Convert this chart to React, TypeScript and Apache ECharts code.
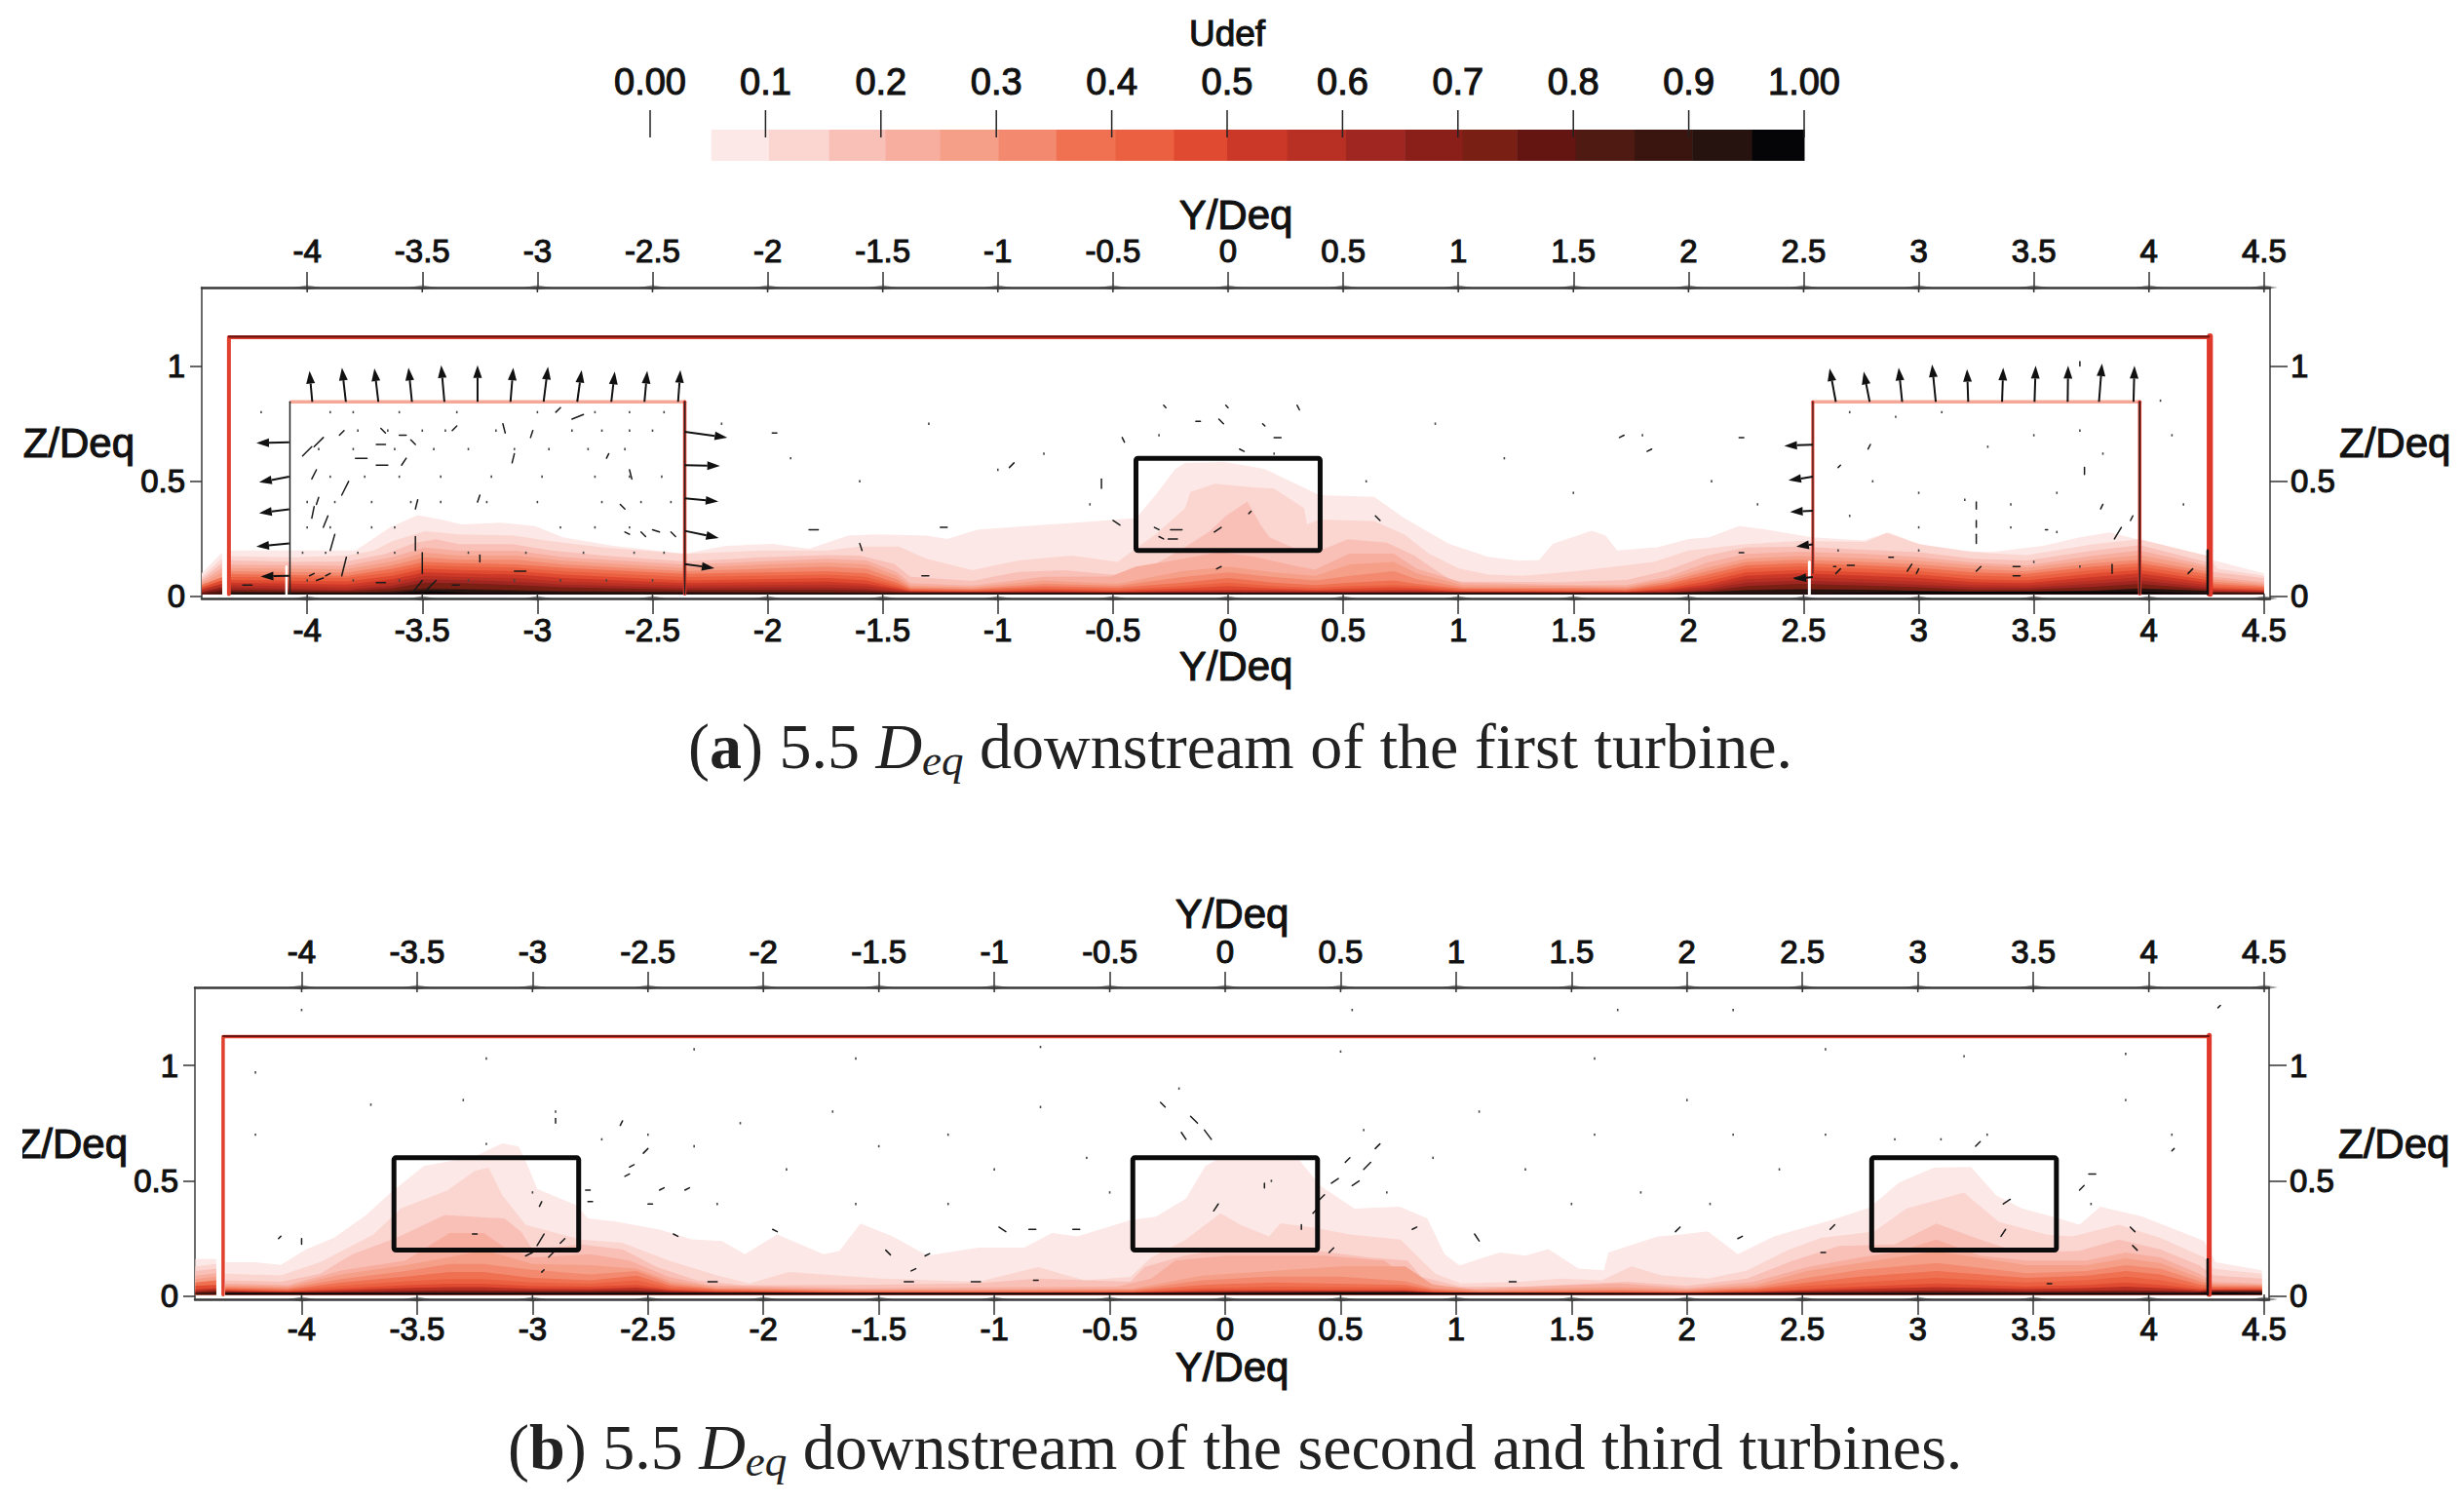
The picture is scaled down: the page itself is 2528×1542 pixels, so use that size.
import React, { useEffect, useRef } from "react";
import * as echarts from "echarts";

const yTicks = [-4, -3.5, -3, -2.5, -2, -1.5, -1, -0.5, 0, 0.5, 1, 1.5, 2, 2.5, 3, 3.5, 4, 4.5];
const zTicks = [0, 0.5, 1];
const barTicks = [0, 0.1, 0.2, 0.3, 0.4, 0.5, 0.6, 0.7, 0.8, 0.9, 1];
const barTickLabels = ["0.00", "0.1", "0.2", "0.3", "0.4", "0.5", "0.6", "0.7", "0.8", "0.9", "1.00"];
const bandEdges = [.053,.103,.155,.204,.251,.302,.352,.403,.454,.5,.552,.603,.654,.704,.751,.802,.853,.903,.955,1];
const bandColors = ["#fce8e6", "#fbd6d1", "#f9c0b8", "#f7ae9f", "#f59f89", "#f38a70", "#ef7152", "#ea6040", "#e04a30", "#cc3828", "#b83024", "#a02622", "#8a1f1a", "#7a1f14", "#651511", "#4e1a12", "#3a140e", "#26120f", "#050508"];

// Panel (a): contour heights, [Y, Z]
const aL1 = [[-4.34,.2],[-4.07,.2],[-3.79,.2],[-3.64,.3],[-3.52,.353],[-3.42,.334],[-3.33,.313],[-3.16,.32],[-3.01,.306],[-2.89,.257],[-2.67,.22],[-2.36,.186],[-2.18,.22],[-1.98,.228],[-1.82,.207],[-1.65,.264],[-1.53,.27],[-1.31,.264],[-1.22,.25],[-1.09,.29],[-.877,.306],[-.66,.32],[-.4,.34],[-.315,.44],[-.23,.553],[-.186,.58],[-.013,.584],[.16,.553],[.397,.44],[.635,.433],[.765,.34],[.96,.228],[1.13,.172],[1.26,.155],[1.35,.158],[1.41,.228],[1.58,.285],[1.64,.264],[1.69,.2],[1.865,.214],[2.0,.25],[2.09,.257],[2.22,.306],[2.33,.292],[2.535,.257],[2.76,.243],[2.87,.278],[2.96,.243],[3.09,.2],[3.32,.193],[3.54,.22],[3.7,.257],[3.83,.278],[3.97,.243],[4.23,.18],[4.28,.158],[4.5,.1]];
const aL2 = [[-4.34,.175],[-4.06,.17],[-3.83,.178],[-3.71,.2],[-3.63,.24],[-3.49,.283],[-3.34,.27],[-3.11,.265],[-2.94,.24],[-2.71,.213],[-2.36,.185],[-2.03,.2],[-1.74,.2],[-1.6,.217],[-1.43,.217],[-1.31,.164],[-1.11,.114],[-.91,.157],[-.68,.178],[-.48,.15],[-.395,.213],[-.315,.27],[-.186,.384],[-.164,.454],[-.056,.49],[.095,.475],[.2,.468],[.33,.384],[.343,.313],[.397,.334],[.635,.327],[.765,.27],[.873,.186],[1.0,.123],[1.13,.095],[1.28,.09],[1.5,.109],[1.85,.15],[2.0,.2],[2.25,.227],[2.48,.241],[2.77,.237],[2.86,.276],[3.0,.227],[3.24,.192],[3.47,.18],[3.76,.227],[3.96,.248],[4.25,.178],[4.3,.121],[4.5,.09]];
const aL3 = [[-4.34,.157],[-4.06,.15],[-3.83,.152],[-3.66,.185],[-3.53,.234],[-3.44,.248],[-3.34,.227],[-3.11,.227],[-2.94,.2],[-2.71,.178],[-2.36,.152],[-2.03,.17],[-1.74,.18],[-1.6,.178],[-1.45,.142],[-1.38,.086],[-1.11,.068],[-.91,.107],[-.71,.114],[-.48,.093],[-.34,.128],[-.2,.206],[-.08,.283],[-.013,.348],[.084,.412],[.14,.313],[.18,.257],[.31,.2],[.4,.2],[.52,.248],[.69,.234],[.81,.178],[.87,.135],[.98,.065],[1.44,.062],[1.73,.072],[1.91,.114],[2.08,.178],[2.25,.213],[2.48,.217],[2.77,.203],[3,.192],[3.24,.164],[3.47,.157],[3.76,.2],[3.96,.223],[4.25,.15],[4.28,.107],[4.5,.079]];
const aL4 = [[-4.34,.138],[-3.83,.133],[-3.63,.171],[-3.49,.213],[-3.34,.199],[-3.09,.199],[-2.89,.171],[-2.36,.138],[-2.03,.152],[-1.74,.164],[-1.57,.157],[-1.44,.107],[-1.38,.058],[-1.11,.048],[-.8,.086],[-.51,.087],[-.4,.13],[-.23,.158],[-.035,.193],[.117,.172],[.27,.137],[.376,.116],[.527,.186],[.72,.186],[.82,.12],[1.02,.06],[1.5,.05],[1.73,.05],[1.91,.086],[2.08,.147],[2.25,.185],[2.48,.195],[2.77,.185],[3,.171],[3.24,.147],[3.47,.135],[3.76,.178],[3.96,.2],[4.25,.135],[4.28,.086],[4.5,.062]];
const aStations = [-4.34,-3.83,-3.63,-3.49,-3.34,-3.09,-2.89,-2.36,-2.03,-1.74,-1.57,-1.44,-1.38,-1.11,-.8,-.48,-.2,0,.2,.38,.53,.72,.82,1.02,1.5,1.73,1.91,2.08,2.25,2.48,2.77,3,3.24,3.47,3.76,3.96,4.25,4.28,4.5];
const aL5 = [.124,.118,.152,.19,.178,.178,.155,.124,.138,.148,.14,.09,.048,.04,.07,.055,.11,.13,.105,.09,.14,.15,.10,.05,.045,.042,.075,.125,.165,.175,.165,.155,.135,.125,.16,.18,.125,.075,.055];
const aL6 = [.11,.104,.135,.17,.16,.16,.14,.11,.12,.13,.12,.075,.04,.034,.056,.046,.085,.105,.085,.07,.09,.11,.075,.04,.038,.036,.065,.11,.15,.16,.15,.14,.12,.11,.145,.16,.11,.065,.048];
const aL7 = [.098,.09,.12,.15,.145,.14,.125,.098,.105,.11,.1,.06,.034,.03,.045,.038,.06,.08,.06,.05,.06,.07,.055,.034,.032,.03,.055,.095,.135,.145,.135,.125,.105,.098,.13,.145,.098,.055,.042];
const aL8 = [.085,.08,.105,.135,.13,.125,.11,.085,.09,.095,.085,.05,.03,.026,.036,.03,.045,.06,.045,.038,.045,.05,.045,.028,.026,.025,.045,.08,.12,.13,.12,.11,.09,.085,.115,.13,.085,.045,.036];
const aL9 = [.072,.066,.09,.12,.115,.11,.095,.07,.075,.08,.07,.04,.025,.022,.03,.025,.035,.045,.035,.03,.035,.04,.036,.024,.022,.021,.036,.066,.105,.115,.105,.095,.075,.07,.1,.115,.072,.038,.03];
const aL10 = [.06,.052,.075,.105,.1,.095,.08,.058,.062,.065,.055,.034,.022,.019,.024,.02,.026,.03,.028,.024,.026,.03,.03,.02,.019,.018,.03,.052,.09,.1,.09,.08,.062,.058,.085,.1,.06,.032,.026];
const aL11 = [.05,.04,.06,.09,.085,.08,.065,.048,.05,.052,.045,.028,.022,.02,.02,.02,.022,.024,.024,.022,.022,.024,.024,.02,.02,.02,.024,.042,.075,.085,.075,.065,.05,.048,.07,.085,.05,.028,.022];
const aL12 = [.04,.03,.048,.075,.072,.065,.052,.038,.04,.04,.034,.022,.02,.019,.019,.018,.02,.02,.02,.02,.02,.021,.021,.019,.018,.018,.02,.033,.06,.07,.06,.052,.04,.038,.056,.07,.04,.022,.02];
const aL13 = [.03,.024,.036,.06,.058,.05,.04,.03,.03,.03,.026,.02,.018,.018,.018,.017,.018,.018,.018,.018,.018,.019,.019,.018,.017,.017,.018,.025,.045,.055,.048,.04,.03,.03,.042,.055,.032,.02,.018];
const aL15 = [.022,.019,.024,.036,.034,.028,.024,.021,.019,.019,.018,.017,.017,.017,.017,.016,.017,.017,.017,.017,.017,.017,.017,.017,.016,.016,.017,.019,.028,.034,.03,.025,.022,.022,.026,.036,.024,.018,.017];
const aL17 = [.018,.015,.018,.03,.03,.024,.02,.018,.018,.017,.016,.015,.015,.015,.015,.014,.015,.015,.015,.015,.015,.015,.015,.015,.014,.014,.015,.02,.026,.03,.028,.024,.02,.02,.024,.034,.024,.016,.015];
const aL19 = [[-4.34,.013],[-3.6,.016],[-3.45,.022],[-3.3,.016],[-2.4,.013],[2.54,.014],[3,.02],[3.9,.022],[4.26,.014]];

// Panel (b): contour heights, [Y, Z]
const bL1 = [[-4.33,.148],[-4.2,.148],[-4.09,.136],[-3.98,.204],[-3.86,.253],[-3.72,.352],[-3.62,.444],[-3.47,.564],[-3.25,.606],[-3.13,.663],[-3.06,.649],[-3.02,.564],[-2.98,.465],[-2.81,.395],[-2.76,.338],[-2.64,.324],[-2.45,.289],[-2.31,.247],[-2.18,.24],[-2.08,.183],[-1.94,.268],[-1.74,.183],[-1.67,.197],[-1.58,.316],[-1.44,.26],[-1.29,.176],[-1.07,.211],[-.87,.211],[-.75,.274],[-.64,.26],[-.41,.33],[-.3,.345],[-.17,.423],[-.086,.564],[-.02,.6],[.17,.61],[.32,.592],[.41,.48],[.56,.38],[.756,.388],[.875,.338],[.95,.183],[1.015,.134],[1.19,.19],[1.3,.176],[1.4,.205],[1.53,.12],[1.64,.113],[1.66,.19],[1.875,.26],[1.98,.268],[2.09,.282],[2.22,.183],[2.38,.261],[2.63,.331],[2.79,.384],[2.92,.494],[3.07,.557],[3.23,.56],[3.34,.437],[3.45,.381],[3.61,.338],[3.7,.31],[3.79,.388],[3.97,.346],[4.24,.24],[4.29,.148],[4.49,.113]];
const bL2 = [[-4.33,.098],[-4.09,.091],[-3.92,.148],[-3.69,.267],[-3.57,.381],[-3.37,.458],[-3.25,.543],[-3.19,.557],[-3.13,.437],[-3.03,.31],[-2.79,.246],[-2.61,.232],[-2.41,.155],[-2.2,.091],[-2.06,.056],[-1.89,.105],[-1.49,.077],[-1.07,.063],[-.81,.127],[-.61,.07],[-.41,.084],[-.32,.169],[-.18,.239],[-.02,.36],[.065,.31],[.19,.26],[.24,.317],[.39,.296],[.54,.268],[.76,.246],[.83,.176],[.91,.098],[1.02,.056],[1.28,.063],[1.45,.077],[1.63,.07],[1.76,.13],[1.89,.091],[2.09,.077],[2.26,.112],[2.43,.197],[2.58,.253],[2.81,.281],[2.95,.38],[3.2,.45],[3.35,.323],[3.56,.267],[3.67,.26],[3.87,.31],[4.05,.253],[4.24,.169],[4.28,.12],[4.49,.098]];
const bL3 = [[-4.33,.07],[-4.09,.063],[-3.92,.098],[-3.78,.183],[-3.59,.253],[-3.38,.352],[-3.12,.337],[-3.05,.281],[-3,.204],[-2.79,.225],[-2.61,.204],[-2.46,.127],[-2.29,.07],[-2.09,.049],[-1.61,.05],[-1.09,.056],[-.81,.077],[-.41,.063],[-.35,.127],[-.18,.176],[0,.204],[.4,.197],[.62,.169],[.79,.155],[.85,.084],[1.02,.042],[1.3,.042],[1.74,.063],[2,.045],[2.26,.077],[2.46,.155],[2.66,.218],[2.9,.225],[3.08,.316],[3.27,.246],[3.44,.19],[3.7,.197],[3.87,.246],[4.05,.204],[4.22,.134],[4.28,.091],[4.49,.077]];
const bL4 = [[-4.33,.056],[-4.06,.049],[-3.83,.112],[-3.55,.155],[-3.36,.274],[-3.21,.274],[-3.12,.211],[-3,.169],[-2.75,.183],[-2.58,.155],[-2.41,.084],[-2.24,.049],[-1.6,.035],[-.47,.042],[-.32,.077],[-.216,.155],[0,.176],[.43,.176],[.69,.155],[.78,.085],[.85,.063],[1.02,.031],[1.71,.056],[2,.035],[2.29,.063],[2.52,.127],[2.75,.169],[2.9,.19],[3.08,.246],[3.27,.176],[3.47,.155],[3.73,.155],[3.9,.19],[4.05,.169],[4.22,.098],[4.28,.063],[4.49,.056]];
const bStations = [-4.33,-4.06,-3.83,-3.55,-3.36,-3.21,-3,-2.75,-2.55,-2.4,-2.2,-1.6,-1,-.4,-.1,.2,.5,.78,.9,1.1,1.7,2,2.3,2.52,2.75,3.08,3.47,3.73,3.9,4.05,4.22,4.28,4.49];
const bL5 = [.05,.042,.095,.135,.17,.2,.14,.135,.12,.065,.04,.03,.03,.034,.09,.11,.13,.13,.05,.028,.04,.03,.05,.11,.145,.195,.135,.135,.165,.145,.08,.055,.05];
const bL6 = [.042,.036,.075,.11,.14,.14,.115,.095,.11,.055,.034,.026,.026,.028,.07,.085,.085,.065,.035,.024,.03,.025,.04,.08,.115,.145,.1,.11,.135,.12,.065,.048,.046];
const bL7 = [.036,.03,.06,.085,.105,.105,.08,.07,.09,.045,.03,.022,.022,.024,.05,.06,.055,.05,.028,.02,.024,.02,.033,.06,.085,.11,.08,.09,.11,.095,.052,.042,.04];
const bL8 = [.032,.026,.045,.065,.075,.075,.06,.055,.07,.036,.026,.019,.019,.02,.036,.042,.04,.038,.024,.018,.02,.018,.027,.045,.06,.08,.06,.07,.085,.07,.04,.036,.036];
const bL9 = [.028,.022,.034,.048,.055,.055,.044,.042,.05,.03,.022,.017,.017,.018,.028,.03,.03,.03,.02,.016,.017,.016,.022,.032,.042,.056,.042,.05,.06,.05,.032,.032,.032];
const bL10 = [.024,.02,.026,.036,.04,.04,.033,.032,.038,.025,.019,.016,.016,.017,.022,.024,.024,.024,.018,.016,.016,.016,.019,.025,.032,.04,.032,.036,.042,.036,.026,.028,.028];
const bL12 = [.02,.018,.02,.024,.026,.026,.024,.024,.026,.02,.018,.015,.015,.016,.019,.02,.021,.021,.017,.015,.016,.015,.017,.02,.022,.026,.022,.024,.026,.024,.021,.024,.024];
const bL14 = [.018,.016,.017,.018,.019,.019,.019,.019,.02,.017,.016,.014,.014,.015,.017,.018,.019,.019,.015,.014,.014,.014,.016,.017,.018,.019,.018,.019,.019,.019,.018,.022,.022];
const bL17 = [[-4.33,.015],[-3.3,.014],[-2.5,.015],[0,.014],[.6,.016],[2,.013],[4.2,.014],[4.28,.017],[4.49,.015]];

// Strips left of the inner frame: Z at Y = -4.46 and at Y = -4.37
const stripY = [-4.46, -4.37];
const stripABands = [0, 1, 2, 3, 4, 6, 8, 10, 12, 14, 16];
const stripAStart = [.1,.085,.075,.065,.058,.05,.04,.03,.02,.014,.012];
const stripAEnd = [.19,.165,.145,.125,.105,.085,.07,.055,.04,.028,.018];
const stripBBands = [0, 1, 2, 3, 4, 6, 8, 10, 13, 16];
const stripBStart = [.162,.13,.11,.09,.075,.06,.045,.03,.02,.015];
const stripBEnd = [.162,.14,.12,.1,.085,.07,.05,.035,.025,.018];

// Frames and boxes, [Y, Z]
const frameA = [[-4.34,.011],[-4.34,1.125],[4.26,1.125],[4.26,.011]];
const frameB = [[-4.34,.007],[-4.34,1.125],[4.26,1.125],[4.26,.007]];
const coreTopA = [[-4.34,1.128],[4.26,1.128]];
const coreTopB = [[-4.34,1.127],[4.26,1.127]];
const sideRightA = [[4.265,.012],[4.265,1.13]];
const sideRightB = [[4.262,.008],[4.262,1.13]];
const coreRightA = [[4.255,.012],[4.255,.2]];
const coreRightB = [[4.255,.008],[4.255,.16]];
const leftBoxTop = [[-4.07,.845],[-2.36,.845]];
const leftBoxLeft = [[-4.075,.012],[-4.075,.845]];
const leftBoxRight = [[-2.36,.012],[-2.36,.845]];
const rightBoxTop = [[2.54,.845],[3.96,.845]];
const rightBoxLeft = [[2.54,.1],[2.54,.845]];
const rightBoxRight = [[3.96,.012],[3.96,.845]];
const gapLeft = [[-4.09,.012],[-4.09,.13]];
const gapRight = [[2.525,.012],[2.525,.15]];
const turbinesA = [[-.4,.6,.4,.2]];
const turbinesB = [[-3.6,.6,-2.8,.2],[-.4,.6,.4,.2],[2.8,.6,3.6,.2]];

// Arrows, [Y tail, Z tail, Y tip, Z tip]
const arrowsA = [
  [-3.978,.845,-3.99,.979],[-3.832,.845,-3.849,.993],[-3.691,.845,-3.708,.99],[-3.545,.845,-3.56,.993],[-3.404,.845,-3.418,1.004],[-3.26,.845,-3.26,1.004],[-3.117,.845,-3.105,.993],[-2.973,.845,-2.954,.997],[-2.827,.845,-2.808,.983],[-2.679,.845,-2.664,.976],[-2.535,.845,-2.523,.979],[-2.389,.845,-2.379,.983],
  [-4.078,.669,-4.221,.666],[-4.078,.52,-4.209,.496],[-4.078,.379,-4.209,.362],[-4.078,.231,-4.221,.217],[-4.078,.09,-4.202,.087],
  [-2.36,.715,-2.175,.69],[-2.36,.57,-2.207,.567],[-2.36,.426,-2.214,.412],[-2.36,.285,-2.212,.254],[-2.36,.141,-2.231,.123],
  [2.64,.845,2.613,.99],[2.787,.845,2.761,.976],[2.928,.845,2.913,.993],[3.074,.845,3.058,1.007],[3.215,.845,3.21,.987],[3.362,.845,3.367,.993],[3.503,.845,3.508,1.001],[3.647,.845,3.649,1.001],[3.783,.845,3.796,1.011],[3.933,.845,3.937,1.001],
  [2.54,.659,2.416,.654],[2.54,.52,2.434,.504],[2.54,.372,2.441,.367],[2.54,.226,2.468,.217],[2.54,.085,2.456,.076],
];

// Velocity dashes, [Y0, Z0, Y1, Z1]
const specksA = [
  [-4.02,.61,-3.98,.65],[-3.97,.65,-3.93,.69],[-3.98,.51,-3.96,.55],[-3.98,.34,-3.97,.39],[-3.96,.4,-3.95,.43],[-3.93,.3,-3.91,.35],[-3.9,.2,-3.88,.27],[-3.85,.44,-3.82,.5],[-3.79,.6,-3.74,.6],[-3.7,.57,-3.65,.57],[-3.59,.57,-3.57,.6],[-3.7,.66,-3.66,.66],[-3.53,.38,-3.52,.42],[-3.53,.2,-3.53,.26],[-3.5,.1,-3.5,.19],[-3.54,.02,-3.5,.07],[-3.48,.03,-3.44,.07],[-3.99,.09,-3.97,.1],[-3.96,.07,-3.93,.08],[-3.92,.09,-3.9,.1],[-3.85,.09,-3.83,.17],[-3.25,.44,-3.26,.41],[-3.1,.62,-3.11,.58],[-3.02,.72,-3.03,.69],[-2.85,.77,-2.8,.79],[-2.64,.4,-2.62,.38],[-2.55,.28,-2.53,.26],[-2.62,.28,-2.6,.27],[-2.5,.29,-2.47,.28],[-2.42,.28,-2.4,.26],[-3.15,.75,-3.14,.71],[-3.35,.74,-3.37,.72],[-3.68,.73,-3.66,.71],[-3.6,.7,-3.57,.7],[-3.55,.68,-3.53,.66],[-3.86,.7,-3.84,.72],[-3.1,.11,-3.05,.11],[-3.7,.06,-3.66,.06],[-3.37,.05,-3.34,.05],[-4.28,.05,-4.24,.05],[-3.25,.18,-3.25,.15],[-2.92,.8,-2.9,.82],[-2.7,.6,-2.69,.62],[-2.6,.55,-2.59,.51],
  [-1.98,.71,-1.96,.71],[-1.82,.29,-1.78,.29],[-1.33,.09,-1.3,.09],[-1.6,.23,-1.59,.2],
  [-.28,.83,-.27,.82],[-.01,.83,0,.82],[.3,.83,.31,.81],[-.14,.76,-.12,.76],[-.04,.77,-.02,.75],[.15,.75,.16,.74],[.2,.69,.23,.69],[.05,.64,.07,.63],[-.46,.69,-.45,.67],[-.55,.51,-.55,.47],[-.5,.33,-.47,.31],[-.32,.3,-.3,.29],[-.3,.26,-.28,.25],[-.25,.29,-.2,.29],[-.26,.25,-.22,.25],[-.06,.28,-.03,.3],[.09,.36,.1,.37],[.64,.35,.66,.33],[-.95,.56,-.93,.58],[-1.25,.3,-1.22,.3],[1.7,.69,1.72,.7],[1.82,.63,1.84,.64],[-.05,.12,-.03,.13],
  [3.25,.41,3.25,.38],[3.25,.33,3.25,.3],[3.25,.27,3.25,.23],[2.65,.56,2.66,.57],[2.78,.64,2.79,.66],[3.88,.3,3.85,.25],[3.84,.1,3.84,.14],[2.95,.11,2.97,.14],[2.99,.1,3,.12],[2.63,.13,2.64,.13],[2.69,.135,2.72,.135],[2.87,.17,2.89,.17],[3.41,.13,3.44,.13],[3.41,.09,3.44,.09],[4.17,.1,4.19,.12],[2.22,.19,2.24,.19],[2.22,.69,2.24,.69],[3.7,1.0,3.7,1.02],[3.55,.29,3.56,.29],[2.46,.08,2.5,.09],[3.72,.53,3.72,.56],[3.79,.38,3.8,.4],[3.93,.35,3.92,.33],[2.64,.1,2.66,.12],[3.25,.11,3.27,.13],
];
const specksB = [
  [-4,.226,-4,.25],[-4.1,.25,-4.09,.26],[-2.52,.62,-2.5,.64],[-2.97,.39,-2.96,.41],[-2.98,.22,-2.95,.27],[-3.26,.27,-3.24,.27],[-2.88,.23,-2.86,.25],[-2.77,.46,-2.75,.46],[-2.45,.46,-2.43,.47],[-2.6,.52,-2.58,.53],[-2.58,.56,-2.56,.57],[-3.03,.175,-3,.19],[-2.93,.17,-2.91,.19],[-2.96,.105,-2.95,.115],[-2.76,.41,-2.74,.41],[-2.5,.4,-2.48,.4],[-2.34,.46,-2.32,.47],[-2.24,.063,-2.2,.063],[-2.62,.74,-2.61,.76],[-2.9,.75,-2.9,.77],[-2.39,.27,-2.37,.26],[-1.96,.29,-1.94,.28],
  [-.98,.3,-.95,.28],[-.85,.29,-.82,.29],[-.66,.29,-.63,.29],[-1.39,.063,-1.35,.063],[-1.1,.063,-1.06,.063],[-.83,.07,-.81,.07],[-1.36,.11,-1.34,.12],[-1.3,.175,-1.28,.185],[-1.47,.2,-1.45,.18],[-.15,.78,-.12,.75],[-.09,.72,-.06,.68],[-.19,.71,-.17,.68],[-.28,.84,-.26,.82],[.6,.55,.63,.58],[.55,.48,.58,.5],[.46,.49,.49,.51],[.52,.58,.54,.6],[.65,.64,.67,.66],[.41,.42,.43,.44],[.38,.36,.4,.38],[.45,.19,.47,.21],[.81,.29,.83,.3],[1.08,.27,1.1,.24],[1.23,.063,1.26,.063],[-.05,.37,-.03,.4],[.17,.49,.17,.47],[.33,.29,.33,.31],
  [3.37,.4,3.4,.42],[3.74,.53,3.77,.53],[3.7,.46,3.72,.48],[3.92,.3,3.94,.28],[3.36,.26,3.38,.29],[2.22,.25,2.24,.26],[2.58,.19,2.6,.19],[3.56,.055,3.58,.055],[4.1,.63,4.11,.64],[1.95,.28,1.97,.3],[2.62,.29,2.64,.31],[4.3,1.25,4.31,1.26],[3.93,.22,3.95,.2],[3.25,.65,3.27,.67],
];

// Tiny velocity dots, [Y, Z]
const dotsA = [
  [-3.9,.8],[-3.8,.8],[-3.6,.8],[-3.35,.8],[-3,.8],[-2.75,.8],[-2.6,.8],[-2.45,.8],
  [-3.78,.72],[-3.65,.72],[-3.5,.72],[-3.4,.72],[-3.18,.72],[-2.85,.72],[-2.72,.72],[-2.6,.72],[-2.5,.72],
  [-3.95,.64],[-3.8,.64],[-3.62,.64],[-3.45,.64],[-3.3,.64],[-3.1,.64],[-2.95,.64],[-2.78,.64],[-2.62,.64],
  [-3.9,.52],[-3.75,.52],[-3.6,.52],[-3.42,.52],[-3.2,.52],[-2.98,.52],[-2.75,.52],[-2.6,.52],[-2.46,.52],
  [-4,.41],[-3.88,.41],[-3.72,.41],[-3.55,.41],[-3.42,.41],[-3.22,.41],[-3,.41],[-2.72,.41],[-2.55,.41],[-2.42,.41],
  [-4,.3],[-3.9,.3],[-3.72,.3],[-3.62,.3],[-2.9,.3],[-2.75,.3],[-2.6,.3],
  [-4.02,.19],[-3.92,.19],[-3.78,.19],[-3.62,.19],[-3.3,.19],[-3.05,.19],[-2.8,.19],[-2.58,.19],[-2.45,.19],
  [-4,.07],[-3.8,.07],[-3.6,.07],[-3.3,.07],[-3.1,.07],[-2.9,.07],[-2.7,.07],[-2.5,.07],
  [-4.2,.8],[-2.2,.75],[-1.9,.6],[-1.6,.5],[-1.3,.75],[-1,.55],[-.8,.62],[-.6,.4],[-.3,.7],[.2,.62],[.6,.5],[.9,.75],[1.2,.6],[1.5,.45],[1.8,.7],[2.1,.5],[2.3,.4],[4.1,.7],[4.15,.4],[4.05,.85],
  [2.7,.8],[2.9,.78],[3.1,.8],[3.3,.65],[3.5,.7],[3.7,.72],[2.8,.5],[3,.45],[3.2,.42],[3.4,.4],[3.6,.45],[3.8,.62],[2.7,.35],[3,.3],[3.4,.3],[3.6,.28],[2.65,.2],[3,.2],[3.5,.15],[3.7,.13],
];
const dotsB = [
  [-4.2,.7],[-3.7,.83],[-3.2,.66],[-3.3,.85],[-2.9,.8],[-2.7,.68],[-2.5,.7],[-2.3,.65],[-2.1,.75],[-1.9,.55],[-1.7,.8],[-1.5,.65],[-1.2,.7],[-1,.55],[-.8,.82],[-.6,.6],[-.5,.45],[-.2,.9],[.2,.5],[.6,.72],[.9,.6],[1.1,.8],[1.3,.55],[1.6,.7],[1.8,.45],[2,.85],[2.2,.7],[2.4,.55],[2.6,.7],[2.9,.68],[3.1,.68],[3.3,.7],[3.6,.6],[3.9,.85],[4.1,.7],[-3,.45],[-2.2,.4],[-1.6,.4],[-1.2,.4],[.7,.45],[1.5,.4],[2.1,.4],[3.75,.4],[-4.2,.97],[-3.2,1.03],[-2.3,1.07],[-1.6,1.03],[-.8,1.08],[.5,1.06],[1.6,1.03],[2.6,1.07],[3.2,1.04],[3.9,1.05],[-4,1.24],[1.7,1.24],[.55,1.24],[2.2,1.24],
];

const FONT = "Liberation Sans";
const INK = "#111";
const faux = { textBorderColor: INK, textBorderWidth: 1.1 };
const labelStyle = { fontFamily: FONT, fontSize: 33, color: INK, ...faux };
const nameStyle = { fontFamily: FONT, fontSize: 42, lineHeight: 30, color: INK, ...faux };
const captionRich = {
  b: { fontFamily: "Liberation Serif", fontSize: 66, fontWeight: "bold", fill: "#222" },
  d: { fontFamily: "Liberation Serif", fontSize: 66, fontStyle: "italic", fill: "#222" },
  s: { fontFamily: "Liberation Serif", fontSize: 45, fontStyle: "italic", fill: "#222", verticalAlign: "top", padding: [30, 0, 0, 0] },
};

const zip = (xs: number[], zs: number[]) => xs.map((x, i) => [x, zs[i]]);

function contour(name: string, pts: number[][], band: number, base: number, xi: number, order: number) {
  return {
    type: "line", name, data: pts, xAxisIndex: xi, yAxisIndex: xi, symbol: "none", silent: true, z: 2 + order * 0.01,
    lineStyle: { width: 0 }, itemStyle: { color: bandColors[band] },
    areaStyle: { color: bandColors[band], opacity: 1, origin: base },
  };
}
function stroke(name: string, pts: number[][], color: string, width: number, xi: number, z = 3) {
  return {
    type: "line", name, data: pts, xAxisIndex: xi, yAxisIndex: xi, symbol: "none", silent: true, z,
    lineStyle: { color, width, cap: "round", join: "round" }, itemStyle: { color },
  };
}
function dashSeries(name: string, data: number[][], xi: number) {
  return {
    type: "custom", name, data, xAxisIndex: xi, yAxisIndex: xi, silent: true, z: 4,
    renderItem: (_: any, api: any) => {
      const a = api.coord([api.value(0), api.value(1)]);
      const b = api.coord([api.value(2), api.value(3)]);
      return { type: "line", shape: { x1: a[0], y1: a[1], x2: b[0], y2: b[1] }, style: { stroke: "#1a1a1a", lineWidth: 1.5, lineCap: "round" } };
    },
  };
}
function dotSeries(name: string, data: number[][], xi: number) {
  return {
    type: "custom", name, data, xAxisIndex: xi, yAxisIndex: xi, silent: true, z: 4,
    renderItem: (_: any, api: any) => {
      const p = api.coord([api.value(0), api.value(1)]);
      return { type: "rect", shape: { x: p[0] - 0.8, y: p[1] - 1.2, width: 1.6, height: 2.4 }, style: { fill: "#444" } };
    },
  };
}
function arrowSeries(name: string, data: number[][], xi: number) {
  return {
    type: "custom", name, data, xAxisIndex: xi, yAxisIndex: xi, silent: true, z: 4,
    renderItem: (_: any, api: any) => {
      const a = api.coord([api.value(0), api.value(1)]);
      const b = api.coord([api.value(2), api.value(3)]);
      const dx = b[0] - a[0], dy = b[1] - a[1];
      const n = Math.hypot(dx, dy) || 1;
      const ux = dx / n, uy = dy / n;
      const hx = b[0] - ux * 13, hy = b[1] - uy * 13;
      return {
        type: "group",
        children: [
          { type: "line", shape: { x1: a[0], y1: a[1], x2: hx, y2: hy }, style: { stroke: "#111", lineWidth: 2 } },
          { type: "polygon", shape: { points: [[b[0], b[1]], [hx - uy * 4.5, hy + ux * 4.5], [hx + uy * 4.5, hy - ux * 4.5]] }, style: { fill: "#111" } },
        ],
      };
    },
  };
}
function boxSeries(name: string, data: number[][], xi: number) {
  return {
    type: "custom", name, data, xAxisIndex: xi, yAxisIndex: xi, silent: true, z: 5,
    renderItem: (_: any, api: any) => {
      const a = api.coord([api.value(0), api.value(1)]);
      const b = api.coord([api.value(2), api.value(3)]);
      return { type: "rect", shape: { x: a[0], y: a[1], width: b[0] - a[0], height: b[1] - a[1], r: 2 }, style: { fill: "none", stroke: "#0b0b0b", lineWidth: 5 } };
    },
  };
}
// Star-shaped axis ticks: a soft diamond on the axis line and a short stub across it
function tickMarks(name: string, xi: number, top: number, bottom: number) {
  const data: number[][] = [];
  yTicks.forEach((v) => { data.push([v, top, 1]); data.push([v, bottom, -1]); });
  return {
    type: "custom", name, data, xAxisIndex: xi, yAxisIndex: xi, silent: true, z: 6, clip: false,
    renderItem: (_: any, api: any) => {
      const p = api.coord([api.value(0), api.value(1)]);
      const s = api.value(2);
      return {
        type: "group",
        children: [
          { type: "polygon", shape: { points: [[p[0] - 14, p[1]], [p[0], p[1] - 2.5], [p[0] + 14, p[1]], [p[0], p[1] + 2.5]] }, style: { fill: "rgba(60,60,60,0.55)" } },
          { type: "line", shape: { x1: p[0], y1: p[1], x2: p[0], y2: p[1] + s * 5 }, style: { stroke: "#333", lineWidth: 1.5 } },
        ],
      };
    },
  };
}

function xAxisOf(gridIndex: number, position: string, min: number, max: number, margin: number, nameGap: number) {
  return {
    type: "value", gridIndex, position, min, max, name: "Y/Deq", nameLocation: "middle", nameGap, nameMoveOverlap: false, nameTextStyle: nameStyle,
    axisLine: { show: true, onZero: false, lineStyle: { color: "#3a3a3a", width: 2.5 } },
    axisTick: { show: true, customValues: yTicks, length: 16, lineStyle: { color: "#333", width: 1.5 } },
    axisLabel: { show: true, customValues: yTicks, margin, hideOverlap: false, ...labelStyle },
    splitLine: { show: false },
  };
}
function yAxisOf(gridIndex: number, position: string, min: number, max: number, tick: number, margin: number, nameGap: number) {
  return {
    type: "value", gridIndex, position, min, max, name: "Z/Deq", nameLocation: "middle", nameGap, nameRotate: 0, nameMoveOverlap: false, nameTextStyle: nameStyle,
    axisLine: { show: true, onZero: false, lineStyle: { color: "#3a3a3a", width: 1.5 } },
    axisTick: { show: true, customValues: zTicks, length: tick, lineStyle: { color: "#333", width: 1.5 } },
    axisLabel: { show: true, customValues: zTicks, margin, hideOverlap: false, padding: [0, 0, 6, 0], ...labelStyle },
    splitLine: { show: false },
  };
}

function buildOption() {
  const baseA = 0.011, baseB = 0.007;
  const aSeries: any[] = [
    contour("a05", aL1, 0, baseA, 0, 1), contour("a10", aL2, 1, baseA, 0, 2), contour("a15", aL3, 2, baseA, 0, 3), contour("a20", aL4, 3, baseA, 0, 4),
    contour("a25", zip(aStations, aL5), 4, baseA, 0, 5), contour("a30", zip(aStations, aL6), 5, baseA, 0, 6), contour("a35", zip(aStations, aL7), 6, baseA, 0, 7),
    contour("a40", zip(aStations, aL8), 7, baseA, 0, 8), contour("a45", zip(aStations, aL9), 8, baseA, 0, 9), contour("a50", zip(aStations, aL10), 9, baseA, 0, 10),
    contour("a55", zip(aStations, aL11), 10, baseA, 0, 11), contour("a60", zip(aStations, aL12), 11, baseA, 0, 12), contour("a65", zip(aStations, aL13), 13, baseA, 0, 13),
    contour("a75", zip(aStations, aL15), 15, baseA, 0, 14), contour("a85", zip(aStations, aL17), 17, baseA, 0, 15), contour("a95", aL19, 18, baseA, 0, 16),
  ];
  stripABands.forEach((b, i) => aSeries.push(contour("aStrip" + i, zip(stripY, [stripAStart[i], stripAEnd[i]]), b, baseA, 0, 20 + i)));
  const bSeries: any[] = [
    contour("b05", bL1, 0, baseB, 2, 1), contour("b10", bL2, 1, baseB, 2, 2), contour("b15", bL3, 2, baseB, 2, 3), contour("b20", bL4, 3, baseB, 2, 4),
    contour("b25", zip(bStations, bL5), 4, baseB, 2, 5), contour("b30", zip(bStations, bL6), 5, baseB, 2, 6), contour("b35", zip(bStations, bL7), 6, baseB, 2, 7),
    contour("b40", zip(bStations, bL8), 7, baseB, 2, 8), contour("b45", zip(bStations, bL9), 8, baseB, 2, 9), contour("b50", zip(bStations, bL10), 10, baseB, 2, 10),
    contour("b60", zip(bStations, bL12), 12, baseB, 2, 11), contour("b70", zip(bStations, bL14), 15, baseB, 2, 12), contour("b85", bL17, 18, baseB, 2, 13),
  ];
  stripBBands.forEach((b, i) => bSeries.push(contour("bStrip" + i, zip(stripY, [stripBStart[i], stripBEnd[i]]), b, baseB, 2, 20 + i)));

  const barData = bandColors.map((_, i) => [bandEdges[i], bandEdges[i + 1], i]);
  const barTickData = barTicks.map((v) => [v]);

  return {
    animation: false,
    backgroundColor: "#fff",
    grid: [
      { left: 207, top: 295, width: 2122, height: 319 },
      { left: 200, top: 1013, width: 2128, height: 320 },
      { left: 667, top: 133, width: 1184, height: 32 },
    ],
    xAxis: [
      xAxisOf(0, "bottom", -4.458, 4.526, 16, 54),
      xAxisOf(0, "top", -4.458, 4.526, 21, 60),
      xAxisOf(1, "bottom", -4.462, 4.521, 14, 54),
      xAxisOf(1, "top", -4.462, 4.521, 20, 61),
      {
        type: "value", gridIndex: 2, position: "top", offset: -8, min: 0, max: 1, name: "Udef", nameLocation: "middle", nameGap: 92, nameMoveOverlap: false, nameTextStyle: { ...nameStyle, fontSize: 37 },
        axisLine: { show: false },
        axisTick: { show: false },
        axisLabel: { show: true, customValues: barTicks, margin: 38, hideOverlap: false, formatter: (v: number) => barTickLabels[barTicks.indexOf(v)] ?? String(v), ...labelStyle, fontSize: 38 },
        splitLine: { show: false },
      },
    ],
    yAxis: [
      yAxisOf(0, "left", -0.0085, 1.341, 12, 17, 69),
      yAxisOf(0, "right", -0.0085, 1.341, 18, 21, 71),
      yAxisOf(1, "left", -0.0127, 1.338, 12, 17, 69),
      yAxisOf(1, "right", -0.0127, 1.338, 18, 21, 71),
      { type: "value", gridIndex: 2, min: 0, max: 1, show: false },
    ],
    graphic: [
      {
        type: "text", left: 706, top: 732, z: 10,
        style: { text: "({b|a}) 5.5 {d|D}{s|eq} downstream of the first turbine.", fontFamily: "Liberation Serif", fontSize: 66, fill: "#222", rich: captionRich },
      },
      {
        type: "text", left: 521, top: 1451, z: 10,
        style: { text: "({b|b}) 5.5 {d|D}{s|eq} downstream of the second and third turbines.", fontFamily: "Liberation Serif", fontSize: 66, fill: "#222", rich: captionRich },
      },
      { type: "rect", left: 0, top: 1145, z: 100, shape: { width: 23, height: 50 }, style: { fill: "#fff" } },
    ],
    series: [
      ...aSeries,
      stroke("frameAred", frameA, "#e2402e", 4, 0),
      stroke("sideAred", sideRightA, "#e0392b", 6, 0),
      stroke("frameAcore", coreTopA, "#6a1510", 2.2, 0, 3.1),
      stroke("coreA", coreRightA, "#111", 2.5, 0, 3.2),
      stroke("gapLeft", gapLeft, "#fff", 2.5, 0),
      stroke("gapRight", gapRight, "#fff", 3, 0),
      stroke("leftBoxTop", leftBoxTop, "#f6a898", 3.5, 0),
      stroke("leftBoxLeft", leftBoxLeft, "#222", 1.5, 0),
      stroke("leftBoxRightRed", leftBoxRight, "#e0392b", 3.5, 0),
      stroke("leftBoxRight", leftBoxRight, "#222", 1.5, 0, 3.1),
      stroke("rightBoxTop", rightBoxTop, "#f6a898", 3.5, 0),
      stroke("rightBoxLeftRed", rightBoxLeft, "#e0392b", 3, 0),
      stroke("rightBoxLeft", rightBoxLeft, "#222", 1, 0, 3.1),
      stroke("rightBoxRightRed", rightBoxRight, "#e0392b", 3.5, 0),
      stroke("rightBoxRight", rightBoxRight, "#222", 1.5, 0, 3.1),
      boxSeries("turbinesA", turbinesA, 0),
      arrowSeries("arrowsA", arrowsA, 0),
      dashSeries("specksA", specksA, 0),
      dotSeries("dotsA", dotsA, 0),
      tickMarks("ticksA", 0, 1.341, -0.0085),
      ...bSeries,
      stroke("frameBred", frameB, "#e2402e", 3.5, 2),
      stroke("sideBred", sideRightB, "#e0392b", 5, 2),
      stroke("frameBcore", coreTopB, "#6a1510", 1.8, 2, 3.1),
      stroke("coreB", coreRightB, "#111", 2.5, 2, 3.2),
      boxSeries("turbinesB", turbinesB, 2),
      dashSeries("specksB", specksB, 2),
      dotSeries("dotsB", dotsB, 2),
      tickMarks("ticksB", 2, 1.338, -0.0127),
      {
        type: "custom", name: "colorbar", data: barData, xAxisIndex: 4, yAxisIndex: 4, silent: true, z: 1,
        renderItem: (_: any, api: any) => {
          const a = api.coord([api.value(0), 1]);
          const b = api.coord([api.value(1), 0]);
          return { type: "rect", shape: { x: a[0], y: a[1], width: b[0] - a[0] + 0.5, height: b[1] - a[1] }, style: { fill: bandColors[api.value(2)] } };
        },
      },
      {
        type: "custom", name: "colorbarTicks", data: barTickData, xAxisIndex: 4, yAxisIndex: 4, silent: true, z: 2, clip: false,
        renderItem: (_: any, api: any) => {
          const p = api.coord([api.value(0), 1]);
          return { type: "line", shape: { x1: p[0], y1: p[1] - 20, x2: p[0], y2: p[1] + 8 }, style: { stroke: "#222", lineWidth: 1.5 } };
        },
      },
    ],
  };
}

export default function App() {
  const ref = useRef<HTMLDivElement>(null);
  useEffect(() => {
    document.body.style.margin = "0";
    const chart = echarts.init(ref.current!, undefined, { renderer: "svg" });
    chart.setOption(buildOption() as any);
    return () => chart.dispose();
  }, []);
  return <div ref={ref} style={{ width: 2528, height: 1542, background: "#fff", overflow: "hidden" }} />;
}
